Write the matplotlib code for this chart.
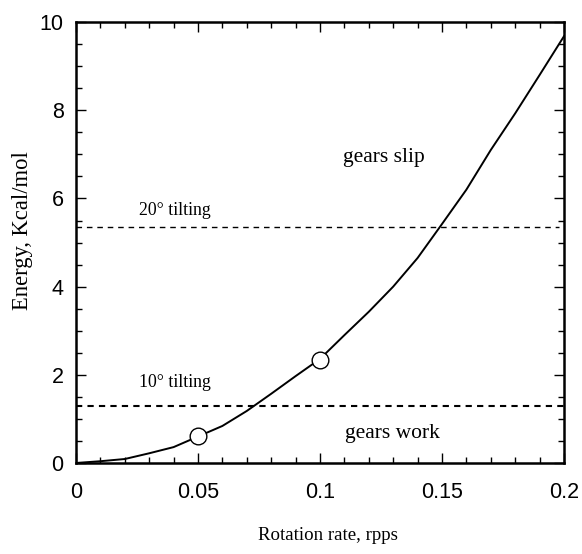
import numpy as np
import matplotlib
matplotlib.use("Agg")
import matplotlib.pyplot as plt
from matplotlib.ticker import MultipleLocator

# rotation rate (rpps) vs energy (Kcal/mol)
rate = [0, 0.01, 0.02, 0.03, 0.04, 0.05, 0.06, 0.07, 0.08, 0.09, 0.1,
        0.11, 0.12, 0.13, 0.14, 0.15, 0.16, 0.17, 0.18, 0.19, 0.2]
energy = [0, 0.04, 0.09, 0.22, 0.36, 0.6, 0.84, 1.18, 1.57, 1.97, 2.36,
          2.9, 3.43, 4.0, 4.65, 5.42, 6.2, 7.1, 7.93, 8.8, 9.68]

# marked points
pt_rate = [0.05, 0.1]
pt_energy = [0.61, 2.34]

# tilting thresholds
tilt_10 = 1.3
tilt_20 = 5.35

serif = "Liberation Serif"
sans = "Liberation Sans"

fig = plt.figure(figsize=(5.82, 5.54), dpi=100)
ax = fig.add_axes([0.1306, 0.1643, 0.969 - 0.1306, 0.960 - 0.1643])

ax.plot(rate, energy, color="black", lw=1.4)
ax.plot(pt_rate, pt_energy, "o", ms=12, mfc="white", mec="black", mew=1.0)

ax.axhline(tilt_20, xmin=0, xmax=0.99, color="black", lw=1.0, ls=(0, (4, 3.5)))
ax.axhline(tilt_10, xmin=0, xmax=1, color="black", lw=1.5, ls=(0, (3, 2.5)))

ax.text(0.026, 5.62, "20° tilting", family=serif, fontsize=12.8)
ax.text(0.026, 1.72, "10° tilting", family=serif, fontsize=12.8)
ax.text(0.126, 6.94, "gears slip", family=serif, fontsize=15.5, ha="center", va="center")
ax.text(0.1295, 0.68, "gears work", family=serif, fontsize=15.5, ha="center", va="center")

ax.set_xlim(0, 0.2)
ax.set_ylim(0, 10)
ax.set_xticks([0, 0.05, 0.1, 0.15, 0.2])
ax.set_xticklabels(["0", "0.05", "0.1", "0.15", "0.2"])
ax.set_yticks([0, 2, 4, 6, 8, 10])
ax.xaxis.set_minor_locator(MultipleLocator(0.01))
ax.yaxis.set_minor_locator(MultipleLocator(0.5))
ax.tick_params(which="both", direction="in", top=True, right=True, width=1.0)
ax.tick_params(which="major", length=7)
ax.tick_params(which="minor", length=4)
ax.tick_params(axis="x", which="major", pad=14)
ax.tick_params(axis="y", which="major", pad=9)
for lab in ax.get_xticklabels() + ax.get_yticklabels():
    lab.set_family(sans)
    lab.set_fontsize(15.5)
for s in ax.spines.values():
    s.set_linewidth(1.8)

# axis titles placed as figure text
fig.text(327.5 / 582, 1 - 536 / 554, "Rotation rate, rpps", family=serif,
         fontsize=13.6, ha="center", va="center")
fig.text(22.5 / 582, 1 - 231 / 554, "Energy, Kcal/mol", family=serif,
         fontsize=16.3, ha="center", va="center", rotation=90)

fig.savefig("out.png", dpi=100)
